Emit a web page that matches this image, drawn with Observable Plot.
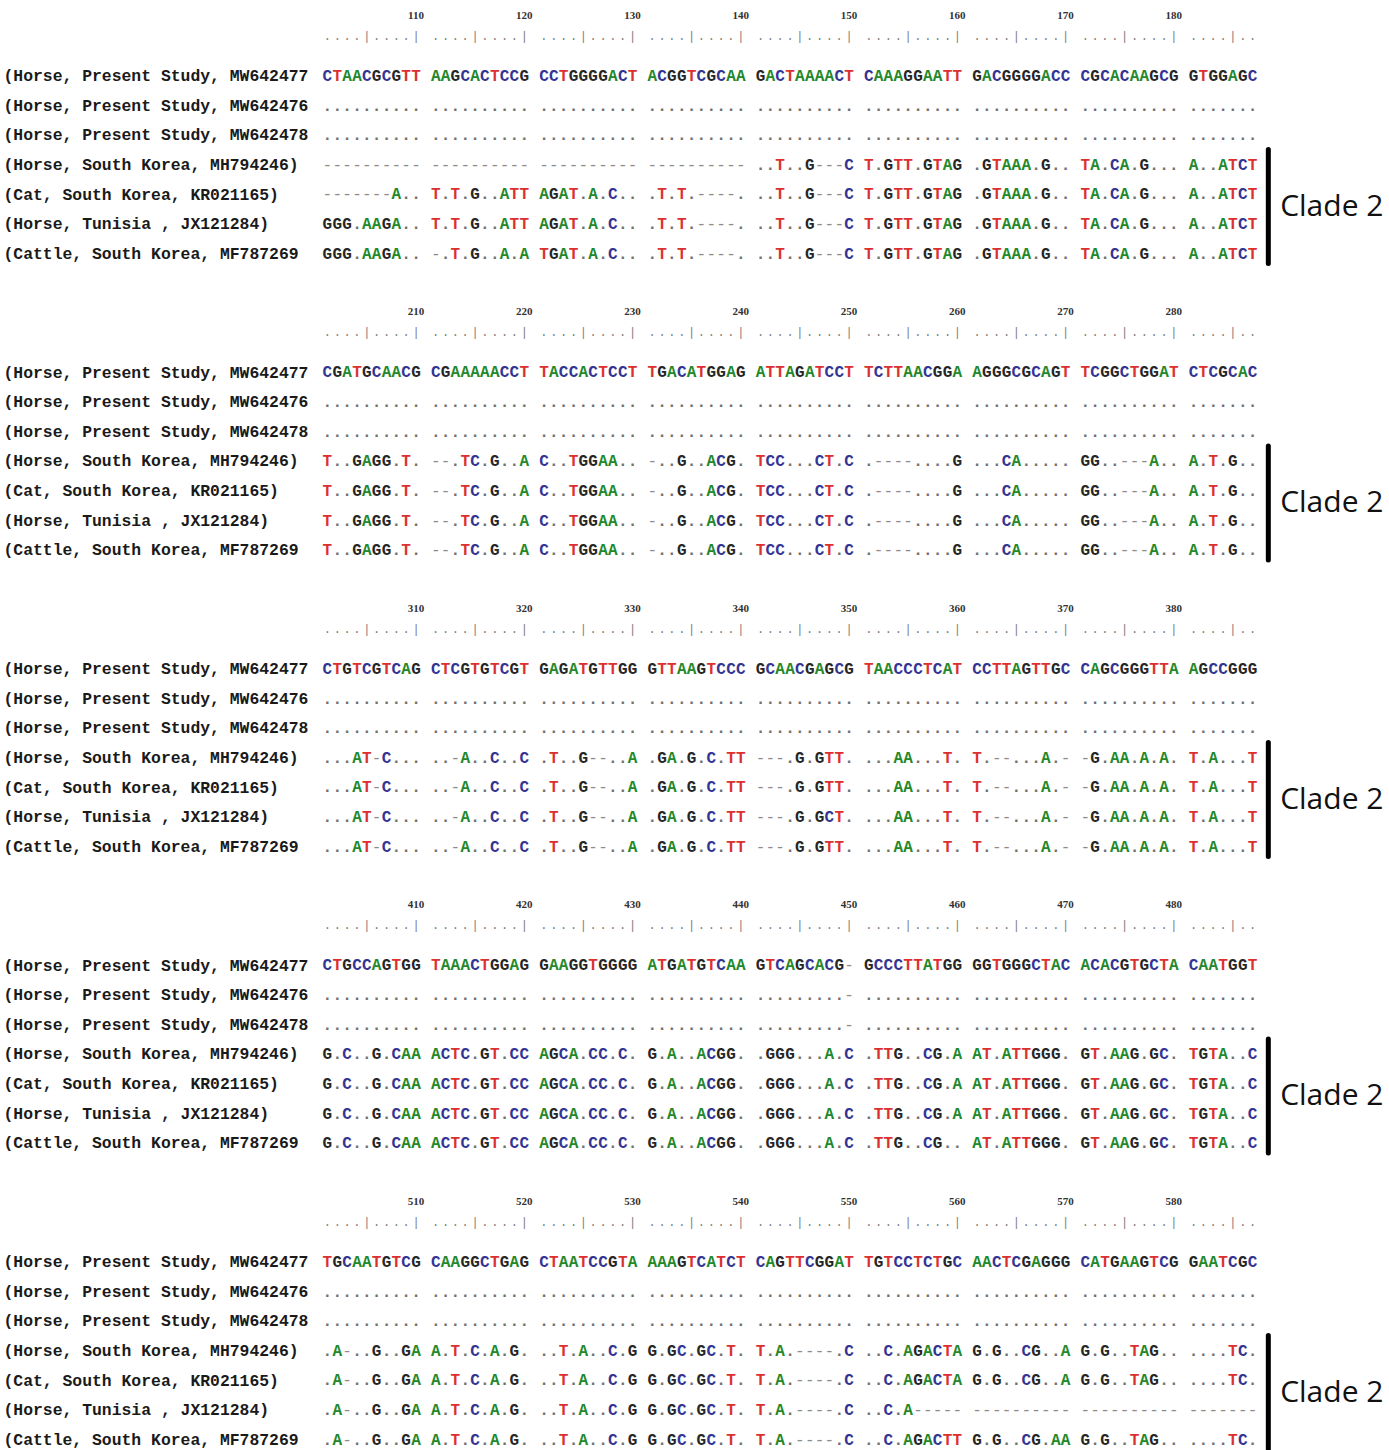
<!DOCTYPE html>
<html><head><meta charset="utf-8">
<script src="https://cdn.jsdelivr.net/npm/d3@7"></script>
<script src="https://cdn.jsdelivr.net/npm/@observablehq/plot@0.6"></script>
<style>body{margin:0;background:#fff}</style>
</head><body><div id="chart"></div>
<script>
const blockStarts = [101, 201, 301, 401, 501];
const tickLabels = [
  [110,120,130,140,150,160,170,180],
  [210,220,230,240,250,260,270,280],
  [310,320,330,340,350,360,370,380],
  [410,420,430,440,450,460,470,480],
  [510,520,530,540,550,560,570,580]
];
const labels = [
  "(Horse, Present Study, MW642477",
  "(Horse, Present Study, MW642476",
  "(Horse, Present Study, MW642478",
  "(Horse, South Korea, MH794246)",
  "(Cat, South Korea, KR021165)",
  "(Horse, Tunisia , JX121284)",
  "(Cattle, South Korea, MF787269"
];
const ruler = "....|....| ....|....| ....|....| ....|....| ....|....| ....|....| ....|....| ....|....| ....|..";
const dotsRow = ".......... .......... .......... .......... .......... .......... .......... .......... .......";

const block1 = [
  "CTAACGCGTT AAGCACTCCG CCTGGGGACT ACGGTCGCAA GACTAAAACT CAAAGGAATT GACGGGGACC CGCACAAGCG GTGGAGC",
  dotsRow,
  dotsRow,
  "---------- ---------- ---------- ---------- ..T..G---C T.GTT.GTAG .GTAAA.G.. TA.CA.G... A..ATCT",
  "-------A.. T.T.G..ATT AGAT.A.C.. .T.T.----. ..T..G---C T.GTT.GTAG .GTAAA.G.. TA.CA.G... A..ATCT",
  "GGG.AAGA.. T.T.G..ATT AGAT.A.C.. .T.T.----. ..T..G---C T.GTT.GTAG .GTAAA.G.. TA.CA.G... A..ATCT",
  "GGG.AAGA.. -.T.G..A.A TGAT.A.C.. .T.T.----. ..T..G---C T.GTT.GTAG .GTAAA.G.. TA.CA.G... A..ATCT"
];
const block2 = [
  "CGATGCAACG CGAAAAACCT TACCACTCCT TGACATGGAG ATTAGATCCT TCTTAACGGA AGGGCGCAGT TCGGCTGGAT CTCGCAC",
  dotsRow,
  dotsRow,
  "T..GAGG.T. --.TC.G..A C..TGGAA.. -..G..ACG. TCC...CT.C .----....G ...CA..... GG..---A.. A.T.G..",
  "T..GAGG.T. --.TC.G..A C..TGGAA.. -..G..ACG. TCC...CT.C .----....G ...CA..... GG..---A.. A.T.G..",
  "T..GAGG.T. --.TC.G..A C..TGGAA.. -..G..ACG. TCC...CT.C .----....G ...CA..... GG..---A.. A.T.G..",
  "T..GAGG.T. --.TC.G..A C..TGGAA.. -..G..ACG. TCC...CT.C .----....G ...CA..... GG..---A.. A.T.G.."
];
const block3 = [
  "CTGTCGTCAG CTCGTGTCGT GAGATGTTGG GTTAAGTCCC GCAACGAGCG TAACCCTCAT CCTTAGTTGC CAGCGGGTTA AGCCGGG",
  dotsRow,
  dotsRow,
  "...AT-C... ..-A..C..C .T..G--..A .GA.G.C.TT ---.G.GTT. ...AA...T. T.--...A.- -G.AA.A.A. T.A...T",
  "...AT-C... ..-A..C..C .T..G--..A .GA.G.C.TT ---.G.GTT. ...AA...T. T.--...A.- -G.AA.A.A. T.A...T",
  "...AT-C... ..-A..C..C .T..G--..A .GA.G.C.TT ---.G.GCT. ...AA...T. T.--...A.- -G.AA.A.A. T.A...T",
  "...AT-C... ..-A..C..C .T..G--..A .GA.G.C.TT ---.G.GTT. ...AA...T. T.--...A.- -G.AA.A.A. T.A...T"
];
const block4 = [
  "CTGCCAGTGG TAAACTGGAG GAAGGTGGGG ATGATGTCAA GTCAGCACG- GCCCTTATGG GGTGGGCTAC ACACGTGCTA CAATGGT",
  ".......... .......... .......... .......... .........- .......... .......... .......... .......",
  ".......... .......... .......... .......... .........- .......... .......... .......... .......",
  "G.C..G.CAA ACTC.GT.CC AGCA.CC.C. G.A..ACGG. .GGG...A.C .TTG..CG.A AT.ATTGGG. GT.AAG.GC. TGTA..C",
  "G.C..G.CAA ACTC.GT.CC AGCA.CC.C. G.A..ACGG. .GGG...A.C .TTG..CG.A AT.ATTGGG. GT.AAG.GC. TGTA..C",
  "G.C..G.CAA ACTC.GT.CC AGCA.CC.C. G.A..ACGG. .GGG...A.C .TTG..CG.A AT.ATTGGG. GT.AAG.GC. TGTA..C",
  "G.C..G.CAA ACTC.GT.CC AGCA.CC.C. G.A..ACGG. .GGG...A.C .TTG..CG.. AT.ATTGGG. GT.AAG.GC. TGTA..C"
];
const block5 = [
  "TGCAATGTCG CAAGGCTGAG CTAATCCGTA AAAGTCATCT CAGTTCGGAT TGTCCTCTGC AACTCGAGGG CATGAAGTCG GAATCGC",
  dotsRow,
  dotsRow,
  ".A-..G..GA A.T.C.A.G. ..T.A..C.G G.GC.GC.T. T.A.----.C ..C.AGACTA G.G..CG..A G.G..TAG.. ....TC.",
  ".A-..G..GA A.T.C.A.G. ..T.A..C.G G.GC.GC.T. T.A.----.C ..C.AGACTA G.G..CG..A G.G..TAG.. ....TC.",
  ".A-..G..GA A.T.C.A.G. ..T.A..C.G G.GC.GC.T. T.A.----.C ..C.A----- ---------- ---------- -------",
  ".A-..G..GA A.T.C.A.G. ..T.A..C.G G.GC.GC.T. T.A.----.C ..C.AGACTT G.G..CG.AA G.G..TAG.. ....TC."
];
const cladeName = "Clade 2";
const cladeFirstRow = 3, cladeLastRow = 6;

const baseColors = {A: "#23882a", C: "#343494", G: "#262626", T: "#dc3030", ".": "#707070", "-": "#8c8c8c", "|": "#777"};

const blocks = [block1, block2, block3, block4, block5];
const nCells = ruler.length;
const linesPerBlock = 10, firstRowLine = 2.1, rulerLine = 0.75, tickLine = 0.05;

const seqCells = [];
blocks.forEach((rows, b) => rows.forEach((s, r) => [...s].forEach((ch, i) => {
  if (ch !== " ") seqCells.push({b, r, i, ch});
})));
const rulerCells = [];
blocks.forEach((_, b) => [...ruler].forEach((ch, i) => { if (ch !== " ") rulerCells.push({b, i, ch}); }));
const tickCells = [];
tickLabels.forEach((ticks, b) => ticks.forEach(v => {
  const p = v - blockStarts[b];
  tickCells.push({b, v, i: p + Math.floor(p / 10)});
}));
const labelRows = [];
blocks.forEach((_, b) => labels.forEach((t, r) => labelRows.push({b, r, t})));
const clades = blocks.map((_, b) => ({b}));

const rowY = d => d.b * linesPerBlock + firstRowLine + d.r;
const letters = seqCells.filter(d => /[ACGT]/.test(d.ch));
const dots = seqCells.filter(d => d.ch === ".");
const gaps = seqCells.filter(d => d.ch === "-");

const chart = Plot.plot({
  width: 1389, height: 1450, margin: 0,
  style: {background: "#fff"},
  x: {type: "linear", domain: [0, nCells], range: [322, 1257], axis: null},
  y: {type: "linear", domain: [0, 48], range: [13, 13 + 48 * 29.65], axis: null},
  color: {type: "identity"},
  marks: [
    Plot.text(tickCells, {x: d => d.i + 0.5, y: d => d.b * linesPerBlock + tickLine, text: d => String(d.v),
      fontFamily: "Liberation Serif", fontWeight: "bold", fontSize: 11, fill: "#333"}),
    Plot.text(rulerCells, {x: d => d.i + 0.5, y: d => d.b * linesPerBlock + rulerLine, text: "ch",
      fontFamily: "Liberation Mono", fontSize: 12, fill: "#808080"}),
    Plot.text(labelRows, {y: rowY, text: "t", frameAnchor: "left", textAnchor: "start", dx: 3,
      fontFamily: "Liberation Mono", fontWeight: "bold", fontSize: 16.4, fill: "#1a1a1a"}),
    Plot.text(dots, {x: d => d.i + 0.5, y: rowY, text: "ch", fill: d => baseColors[d.ch],
      fontFamily: "Liberation Mono", fontWeight: "bold", fontSize: 16}),
    Plot.text(gaps, {x: d => d.i + 0.5, y: rowY, text: "ch", fill: d => baseColors[d.ch],
      fontFamily: "Liberation Mono", fontSize: 16}),
    Plot.text(letters, {x: d => d.i + 0.5, y: rowY, text: "ch", fill: d => baseColors[d.ch],
      fontFamily: "Liberation Mono", fontWeight: "bold", fontSize: 16}),
    Plot.ruleX(clades, {x: nCells + 1.1, y1: d => d.b * linesPerBlock + firstRowLine + cladeFirstRow - 0.5,
      y2: d => d.b * linesPerBlock + firstRowLine + cladeLastRow + 0.35, stroke: "#000", strokeWidth: 5, strokeLinecap: "round"}),
    Plot.text(clades, {x: nCells + 2.3, y: d => d.b * linesPerBlock + firstRowLine + (cladeFirstRow + cladeLastRow) / 2 - 0.1,
      text: () => cladeName, textAnchor: "start", fontFamily: "Open Sans", fontSize: 30, fill: "#111"})
  ]
});
document.getElementById("chart").appendChild(chart);
</script>
</body></html>
